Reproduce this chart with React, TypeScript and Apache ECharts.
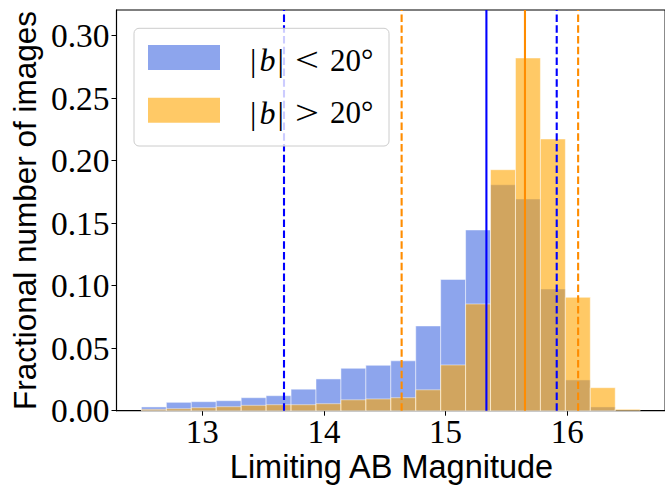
import React, { useEffect, useRef } from "react";
import * as echarts from "echarts";

// Histogram bin edges (Limiting AB magnitude)
const binEdges = [
  12.5, 12.705, 12.91, 13.115, 13.32, 13.525, 13.73, 13.935, 14.14, 14.345, 14.55,
  14.755, 14.96, 15.165, 15.37, 15.575, 15.78, 15.985, 16.19, 16.395, 16.6,
];
// Fractional number of images, |b| < 20 deg
const lowLatFrac = [
  0.003, 0.0067, 0.0072, 0.008, 0.0104, 0.012, 0.0172, 0.0254, 0.0339, 0.0363,
  0.0399, 0.0678, 0.105, 0.1446, 0.1808, 0.1694, 0.0974, 0.0246, 0.003, 0,
];
// Fractional number of images, |b| > 20 deg
const highLatFrac = [
  0.0011, 0.0016, 0.0024, 0.0032, 0.0043, 0.0048, 0.0048, 0.0056, 0.0087, 0.0094,
  0.0104, 0.0167, 0.0366, 0.0854, 0.1928, 0.2822, 0.2174, 0.0907, 0.0184, 0.0011,
];
// Vertical marker lines: [lower percentile, median, upper percentile]
const lowLatMarkers = [13.672, 15.336, 15.914];
const highLatMarkers = [14.639, 15.653, 16.09];
const markerKinds = ["dashed", "solid", "dashed"];

const xTicks = [13, 14, 15, 16];
const yTicks = [0, 0.05, 0.1, 0.15, 0.2, 0.25, 0.3];
const X_MIN = 12.295;
const X_MAX = 16.805;
const Y_MIN = 0;
const Y_MAX = 0.3206;

const legendLabels = ["< 20°", "> 20°"];

const BLUE = "#4169E1";
const ORANGE = "#FFA500";
const LINE_BLUE = "#0000FF";
const LINE_ORANGE = "#FF8C00";

const SERIF = "'Liberation Serif', 'DejaVu Serif', serif";
const SANS = "'Liberation Sans', Arial, sans-serif";

function histSeries(name: string, values: number[], color: string) {
  const data = values.map((v, i) => [binEdges[i], binEdges[i + 1], v]);
  return {
    type: "custom",
    name,
    data,
    encode: { x: [0, 1], y: 2 },
    renderItem: (params: any, api: any) => {
      const x0 = api.value(0);
      const x1 = api.value(1);
      const v = api.value(2);
      if (!(v > 0)) return null;
      const pTop = api.coord([x0, v]);
      const pBot = api.coord([x1, 0]);
      return {
        type: "rect",
        shape: {
          x: pTop[0],
          y: pTop[1],
          width: pBot[0] - pTop[0],
          height: pBot[1] - pTop[1],
        },
        style: { fill: color, stroke: "#ffffff", lineWidth: 0.8, opacity: 0.6 },
      };
    },
  };
}

function markerSeries(name: string, xs: number[], color: string) {
  const data = xs.map((x, i) => [x, markerKinds[i] === "dashed" ? 1 : 0]);
  return {
    type: "custom",
    name,
    data,
    encode: { x: 0 },
    renderItem: (params: any, api: any) => {
      const x = api.value(0);
      const dashed = api.value(1) === 1;
      const p0 = api.coord([x, Y_MIN]);
      const p1 = api.coord([x, Y_MAX]);
      return {
        type: "line",
        shape: { x1: p0[0], y1: p0[1], x2: p1[0], y2: p1[1] },
        style: {
          stroke: color,
          lineWidth: 2.1,
          lineDash: dashed ? [7.5, 3.3] : null,
        },
      };
    },
  };
}

export default function App() {
  const ref = useRef<HTMLDivElement>(null);

  useEffect(() => {
    if (!ref.current) return;
    const chart = echarts.init(ref.current, null, { renderer: "svg" });

    const legendRow = (i: number, color: string, label: string) => {
      const cy = i === 0 ? 60 : 112.7;
      return [
        {
          type: "rect",
          shape: { x: 148, y: cy - 15, width: 72, height: 25 },
          style: { fill: color, opacity: 0.6 },
          z: 101,
        },
        {
          type: "text",
          x: 250,
          y: cy,
          style: {
            text: "{r||}{i|b}{r||}",
            rich: {
              r: { fontFamily: SERIF, fontSize: 32, fill: "#000" },
              i: { fontFamily: SERIF, fontSize: 32, fontStyle: "italic", fill: "#000", padding: [0, 2, 0, 3] },
            },
            textAlign: "left",
            textVerticalAlign: "middle",
          },
          z: 101,
        },
        {
          type: "text",
          x: 295,
          y: cy,
          scaleX: 1.25,
          style: {
            text: label.split(" ")[0],
            fontFamily: SERIF,
            fontSize: 34,
            fill: "#000",
            textAlign: "left",
            textVerticalAlign: "middle",
          },
          z: 101,
        },
        {
          type: "text",
          x: 330,
          y: cy,
          style: {
            text: label.split(" ")[1],
            fontFamily: SERIF,
            fontSize: 31,
            fill: "#000",
            textAlign: "left",
            textVerticalAlign: "middle",
          },
          z: 101,
        },
      ];
    };

    const option: any = {
      animation: false,
      backgroundColor: "#ffffff",
      grid: {
        left: 116.5,
        top: 10,
        width: 548.6,
        height: 400.7,
        containLabel: false,
        outerBoundsMode: "none",
        show: true,
        borderColor: "#000",
        borderWidth: 1.1,
        backgroundColor: "transparent",
      },
      xAxis: {
        type: "value",
        min: X_MIN,
        max: X_MAX,
        axisLine: { show: true, lineStyle: { color: "#000", width: 1.1 } },
        axisTick: {
          show: true,
          customValues: xTicks,
          length: 5,
          lineStyle: { color: "#000", width: 1 },
        },
        axisLabel: {
          customValues: xTicks,
          fontFamily: SERIF,
          fontSize: 33,
          color: "#000",
          margin: 5,
          formatter: (v: number) => String(v),
        },
        splitLine: { show: false },
      },
      yAxis: {
        type: "value",
        min: Y_MIN,
        max: Y_MAX,
        axisLine: { show: true, lineStyle: { color: "#000", width: 1.1 } },
        axisTick: {
          show: true,
          customValues: yTicks,
          length: 5,
          lineStyle: { color: "#000", width: 1 },
        },
        axisLabel: {
          customValues: yTicks,
          fontFamily: SERIF,
          fontSize: 33.5,
          color: "#000",
          margin: 7,
          formatter: (v: number) => v.toFixed(2),
        },
        splitLine: { show: false },
      },
      series: [
        histSeries("|b| < 20°", lowLatFrac, BLUE),
        histSeries("|b| > 20°", highLatFrac, ORANGE),
        markerSeries("low-lat markers", lowLatMarkers, LINE_BLUE),
        markerSeries("high-lat markers", highLatMarkers, LINE_ORANGE),
      ],
      graphic: [
        {
          type: "rect",
          shape: { x: 134, y: 28.3, width: 255, height: 117.7, r: 5 },
          style: { fill: "rgba(255,255,255,0.8)", stroke: "#cccccc", lineWidth: 1 },
          z: 100,
        },
        ...legendRow(0, BLUE, legendLabels[0]),
        ...legendRow(1, ORANGE, legendLabels[1]),
        {
          type: "text",
          x: 391.5,
          y: 467,
          style: {
            text: "Limiting AB Magnitude",
            fontFamily: SANS,
            fontSize: 32.5,
            fill: "#000",
            textAlign: "center",
            textVerticalAlign: "middle",
          },
          z: 100,
        },
        {
          type: "text",
          x: 25,
          y: 210.5,
          rotation: Math.PI / 2,
          style: {
            text: "Fractional number of images",
            fontFamily: SANS,
            fontSize: 31.5,
            fill: "#000",
            textAlign: "center",
            textVerticalAlign: "middle",
          },
          z: 100,
        },
      ],
    };

    chart.setOption(option);
    return () => chart.dispose();
  }, []);

  return (
    <div
      ref={ref}
      style={{ position: "fixed", left: 0, top: 0, width: 665, height: 485 }}
    />
  );
}
